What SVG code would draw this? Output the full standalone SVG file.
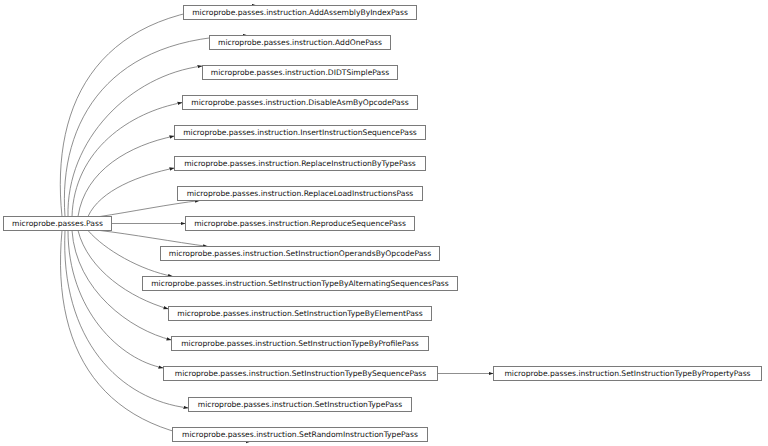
<svg xmlns="http://www.w3.org/2000/svg" width="768" height="446" viewBox="0 0 768 446">
<defs>
<style>
.n rect{fill:#fff;stroke:#7a7a7a;stroke-width:1}
.n text{font-family:"DejaVu Sans","Liberation Sans",sans-serif;font-size:7.6px;fill:#111;text-anchor:middle}
.e path{fill:none;stroke:#6a6a6a;stroke-width:0.75}
</style>
<marker id="ah" viewBox="0 0 5 4" refX="5" refY="2" markerWidth="5" markerHeight="4" markerUnits="userSpaceOnUse" orient="auto">
<path d="M0,0.3 L5,2 L0,3.7 z" fill="#222"/>
</marker>
</defs>
<rect width="768" height="446" fill="#fff"/>
<g id="edges" class="e">
<path marker-end="url(#ah)" d="M62,216.5 C50,100 100,5.5 257,5.5"/>
<path marker-end="url(#ah)" d="M65,216.5 C58,120 110,35.5 248,35.5"/>
<path marker-end="url(#ah)" d="M68,216.5 C66,140 130,75 202.5,66"/>
<path marker-end="url(#ah)" d="M72,216.5 C74,150 130,112 182.5,102.5"/>
<path marker-end="url(#ah)" d="M78,216.5 C85,170 130,145 174.5,136"/>
<path marker-end="url(#ah)" d="M88,216.5 C100,190 140,175 174.5,168"/>
<path marker-end="url(#ah)" d="M100,216.5 C130,212 170,204 200,200.5"/>
<path marker-end="url(#ah)" d="M111.5,223.5 L185.5,223.5"/>
<path marker-end="url(#ah)" d="M100,230.5 C130,234 175,242 208,246.5"/>
<path marker-end="url(#ah)" d="M88,230.5 C105,250 140,270 173,276.5"/>
<path marker-end="url(#ah)" d="M78,230.5 C88,270 130,298 168.5,309"/>
<path marker-end="url(#ah)" d="M72,230.5 C76,290 130,330 171.5,340"/>
<path marker-end="url(#ah)" d="M68,230.5 C68,310 120,360 163.5,368"/>
<path marker-end="url(#ah)" d="M65,230.5 C60,340 120,400 188.5,408"/>
<path marker-end="url(#ah)" d="M62,230.5 C50,360 110,441.5 251,441.5"/>
<path marker-end="url(#ah)" d="M437.5,373.5 L493.5,373.5"/>
</g>
<g id="pass" class="n"><rect x="3.5" y="216.5" width="108" height="14"/><text x="57.5" y="226.2">microprobe.passes.Pass</text></g>
<g id="n0" class="n"><rect x="183.5" y="5.5" width="233" height="14"/><text x="300" y="15.2">microprobe.passes.instruction.AddAssemblyByIndexPass</text></g>
<g id="n1" class="n"><rect x="209.5" y="35.5" width="181" height="14"/><text x="300" y="45.2">microprobe.passes.instruction.AddOnePass</text></g>
<g id="n2" class="n"><rect x="202.5" y="65.5" width="195" height="14"/><text x="300" y="75.2">microprobe.passes.instruction.DIDTSimplePass</text></g>
<g id="n3" class="n"><rect x="182.5" y="95.5" width="235" height="14"/><text x="300" y="105.2">microprobe.passes.instruction.DisableAsmByOpcodePass</text></g>
<g id="n4" class="n"><rect x="174.5" y="125.5" width="251" height="14"/><text x="300" y="135.2">microprobe.passes.instruction.InsertInstructionSequencePass</text></g>
<g id="n5" class="n"><rect x="174.5" y="156.5" width="251" height="14"/><text x="300" y="166.2">microprobe.passes.instruction.ReplaceInstructionByTypePass</text></g>
<g id="n6" class="n"><rect x="177.5" y="186.5" width="245" height="14"/><text x="300" y="196.2">microprobe.passes.instruction.ReplaceLoadInstructionsPass</text></g>
<g id="n7" class="n"><rect x="185.5" y="216.5" width="229" height="14"/><text x="300" y="226.2">microprobe.passes.instruction.ReproduceSequencePass</text></g>
<g id="n8" class="n"><rect x="160.5" y="246.5" width="279" height="14"/><text x="300" y="256.2">microprobe.passes.instruction.SetInstructionOperandsByOpcodePass</text></g>
<g id="n9" class="n"><rect x="142.5" y="276.5" width="315" height="14"/><text x="300" y="286.2">microprobe.passes.instruction.SetInstructionTypeByAlternatingSequencesPass</text></g>
<g id="n10" class="n"><rect x="168.5" y="306.5" width="263" height="14"/><text x="300" y="316.2">microprobe.passes.instruction.SetInstructionTypeByElementPass</text></g>
<g id="n11" class="n"><rect x="171.5" y="336.5" width="257" height="14"/><text x="300" y="346.2">microprobe.passes.instruction.SetInstructionTypeByProfilePass</text></g>
<g id="n12" class="n"><rect x="163.5" y="366.5" width="274" height="14"/><text x="300.5" y="376.2">microprobe.passes.instruction.SetInstructionTypeBySequencePass</text></g>
<g id="n13" class="n"><rect x="188.5" y="397.5" width="223" height="14"/><text x="300" y="407.2">microprobe.passes.instruction.SetInstructionTypePass</text></g>
<g id="n14" class="n"><rect x="172.5" y="427.5" width="255" height="14"/><text x="300" y="437.2">microprobe.passes.instruction.SetRandomInstructionTypePass</text></g>
<g id="n15" class="n"><rect x="493.5" y="366.5" width="268" height="14"/><text x="627.5" y="376.2">microprobe.passes.instruction.SetInstructionTypeByPropertyPass</text></g>
</svg>
